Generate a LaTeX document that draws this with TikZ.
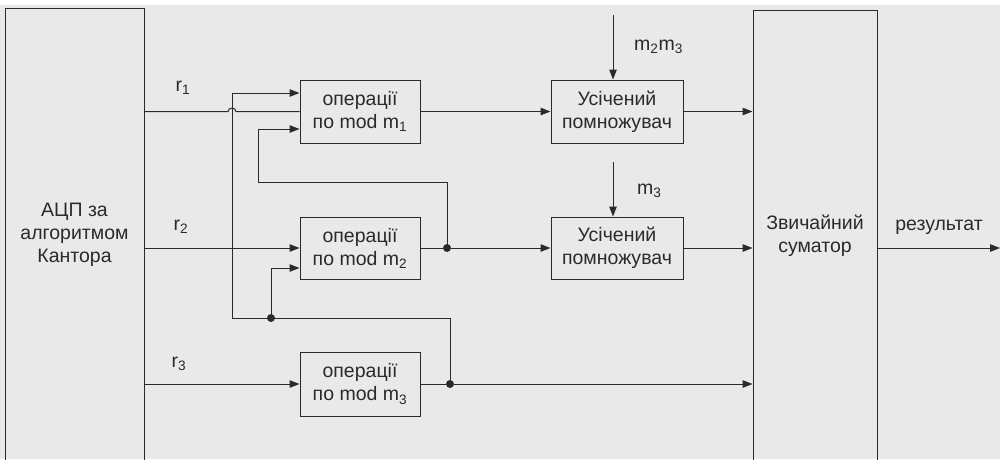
\documentclass[tikz,border=0pt]{standalone}
\usepackage{fontspec}
\setmainfont{Liberation Sans}
\usetikzlibrary{arrows.meta}
\definecolor{ink}{HTML}{2A2A2A}
\definecolor{paper}{HTML}{E9E9E9}

\begin{document}
\begin{tikzpicture}[x=1pt,y=-1pt,
  txt/.style={font=\fontsize{19.5}{23}\selectfont, text=ink},
  blk/.style={txt, draw=ink, line width=1pt, inner sep=0pt, align=center},
  lbl/.style={txt, inner sep=0pt},
  wire/.style={draw=ink, line width=1pt},
  flow/.style={wire, -{Triangle[length=10pt,width=7.5pt]}},
  junction/.style={circle, fill=ink, inner sep=0pt, minimum size=8pt}]

% page
\fill[white] (0,0) rectangle (1006,459);
\fill[paper] (0,5) rectangle (1000,459);
\useasboundingbox (0,0) rectangle (1006,459);
\clip (0,0) rectangle (1006,459);

% blocks
\node[blk, minimum width=139pt, minimum height=454pt] (adc) at (74.5,235)
  {АЦП за\\алгоритмом\\Кантора};
\node[blk, minimum width=120pt, minimum height=63pt] (op1) at (360,111.5)
  {операції\\по mod m\textsubscript{1}};
\node[blk, minimum width=120pt, minimum height=62pt] (op2) at (360,248)
  {операції\\по mod m\textsubscript{2}};
\node[blk, minimum width=120pt, minimum height=64pt] (op3) at (360,384)
  {операції\\по mod m\textsubscript{3}};
\node[blk, minimum width=132pt, minimum height=63pt] (mul1) at (617,111.5)
  {Усічений\\помножувач};
\node[blk, minimum width=132pt, minimum height=62pt] (mul2) at (617,248)
  {Усічений\\помножувач};
\node[blk, minimum width=124pt, minimum height=452pt] (sum) at (815,236)
  {Звичайний\\суматор};

% junctions and free ends
\node[junction] (j2) at (447,248) {};
\node[junction] (j3) at (450,384) {};
\node[junction] (j4) at (271,318) {};
\coordinate (mtop) at (613,15);
\coordinate (msrc) at (613,162);
\coordinate (res) at (1000,248);

% residues from the converter
\draw[wire] (adc.east |- op1.west) -- (228,111.5)
  .. controls (228,107) and (236,107) .. (236,111.5) -- (op1.west);
\draw[flow] (adc.east |- op2.west) -- (op2.west);
\draw[flow] (adc.east |- op3.west) -- (op3.west);
\node[lbl] (r1) at (183,88) {r\textsubscript{1}};
\node[lbl] (r2) at (181,227) {r\textsubscript{2}};
\node[lbl] (r3) at (179,364) {r\textsubscript{3}};

% channel outputs
\draw[flow] (op1.east) -- (mul1.west);
\draw[flow] (op2.east) -- (j2) -- (mul2.west);
\draw[flow] (op3.east) -- (j3) -- (op3.east -| sum.west);
\draw[flow] (mul1.east) -- (mul1.east -| sum.west);
\draw[flow] (mul2.east) -- (mul2.east -| sum.west);

% feedback between channels
\draw[flow] (j3) -- (450,318) -- (232,318) -- (232,93) -- ([yshift=18.5pt]op1.west);
\draw[flow] (j2) -- (447,182) -- (258,182) -- (258,129) -- ([yshift=-17.5pt]op1.west);
\draw[flow] (j4) -- (271,268) -- ([yshift=-20pt]op2.west);

% multiplier constants
\draw[flow] (mtop) -- (mtop |- mul1.north);
\draw[flow] (msrc) -- (msrc |- mul2.north);
\node[lbl, anchor=west] (c23) at (634,47) {m\textsubscript{2}m\textsubscript{3}};
\node[lbl, anchor=west] (c3) at (637,191) {m\textsubscript{3}};

% result
\draw[flow] (sum.east |- res) -- (res);
\node[lbl] (rl) at (939,227) {результат};
\end{tikzpicture}
\end{document}
